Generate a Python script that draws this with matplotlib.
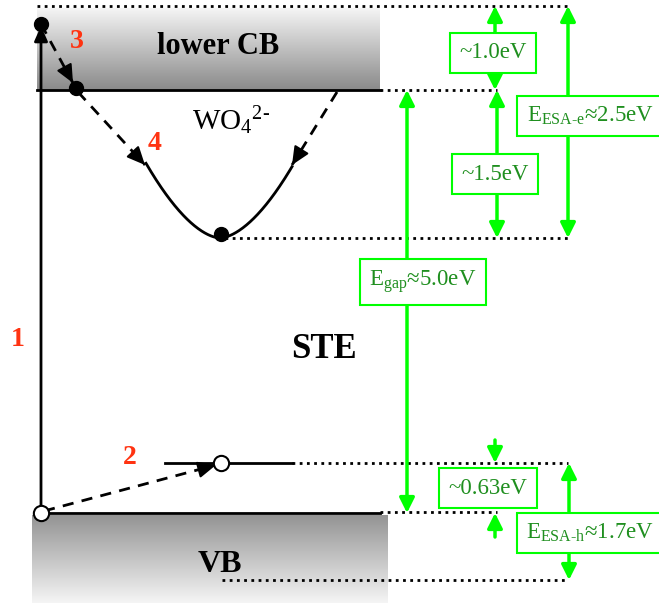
import numpy as np
import matplotlib.pyplot as plt

plt.rcParams['font.family'] = ['Liberation Serif', 'DejaVu Serif']
plt.rcParams['mathtext.fontset'] = 'custom'
plt.rcParams['mathtext.rm'] = 'Liberation Serif'
plt.rcParams['mathtext.it'] = 'Liberation Serif:italic'

# level positions in the diagram (pixel-like units, 0 at top)
y_cb_top = 6      # top of lower CB
y_cb = 90         # CB edge
y_ste = 238       # STE minimum
y_hole = 463      # self-trapped hole level
y_vb = 513        # VB edge
y_vb_low = 580    # lower VB level

# potential well of WO4 2-
well_left, well_right, well_min_x = 146, 292, 220
well_top = 165

# green energy arrows
gap_x = [407, 495, 497, 568, 569]
gap_from = [y_cb, y_cb_top, y_cb, y_cb_top, y_hole]
gap_to = [y_vb, y_cb, y_ste, y_ste, y_vb_low]
gap_labels = [r'E$_{\rm gap}$≈5.0eV', '~1.0eV', '~1.5eV',
              r'E$_{\rm ESA\text{-}e}$≈2.5eV', r'E$_{\rm ESA\text{-}h}$≈1.7eV']
label_x = [423, 493, 495, 590, 590]
label_y = [282, 53, 174, 116, 533]

green = '#00ff00'
txtgreen = '#1f8f1f'
red = '#ff3311'

fig = plt.figure(figsize=(6.59, 6.03), dpi=100)
ax = fig.add_axes([0, 0, 1, 1])
ax.set_xlim(0, 659)
ax.set_ylim(603, 0)
ax.axis('off')

# band boxes with gradients
g = np.linspace(0, 1, 100)[:, None]
cb = 0.96 - 0.42 * g
ax.imshow(np.dstack([cb, cb, cb]), extent=(37, 380, y_cb, 8), aspect='auto', zorder=0)
vb = 0.58 + 0.38 * g
ax.imshow(np.dstack([vb, vb, vb]), extent=(32, 388, 603, y_vb + 2), aspect='auto', zorder=0)

ax.plot([37, 380], [y_cb, y_cb], color='black', lw=2, zorder=2)
ax.plot([41, 380], [y_vb, y_vb], color='black', lw=2, zorder=2)

dot = dict(color='black', lw=2, linestyle=(0, (1, 1.6)), zorder=1)
ax.plot([37, 568], [y_cb_top, y_cb_top], **dot)
ax.plot([380, 497], [y_cb, y_cb], **dot)
ax.plot([225, 568], [y_ste, y_ste], **dot)
ax.plot([292, 568], [y_hole, y_hole], **dot)
ax.plot([380, 497], [y_vb - 1, y_vb - 1], **dot)
ax.plot([222, 568], [y_vb_low, y_vb_low], **dot)

# well curve
xs = np.linspace(well_left, well_right, 200)
half = (well_right - well_left) / 2
u = np.abs(xs - well_min_x) / half
ys = y_ste - (y_ste - well_top) * u ** 1.7
ax.plot(xs, ys, color='black', lw=2, zorder=3)


def dashed_arrow(p0, p1):
    ax.plot([p0[0], p1[0]], [p0[1], p1[1]], color='black', lw=2,
            linestyle=(0, (4, 3)), zorder=3)
    d = np.array(p1) - np.array(p0)
    back = np.array(p1) - d / np.hypot(*d) * 8
    ax.annotate('', xy=p1, xytext=back,
                arrowprops=dict(arrowstyle='-|>,head_length=1.1,head_width=0.5',
                                color='black', lw=1.5, shrinkA=0, shrinkB=0),
                zorder=4)


# transition 1 (vertical)
ax.annotate('', xy=(41, 26), xytext=(41, y_vb),
            arrowprops=dict(arrowstyle='-|>,head_length=0.9,head_width=0.4',
                            color='black', lw=2, shrinkA=0, shrinkB=0), zorder=3)
dashed_arrow((41, 24), (73, 83))
dashed_arrow((78, 92), (145, 165))
dashed_arrow((337, 92), (292, 165))
dashed_arrow((44, 511), (216, 465))
ax.plot([165, 292], [y_hole, y_hole], color='black', lw=2, zorder=2)

ax.plot(41, 24, 'o', color='black', ms=10, zorder=5)
ax.plot(76, 88, 'o', color='black', ms=10, zorder=5)
ax.plot(221, 234, 'o', color='black', ms=10, zorder=5)
ax.plot(221, y_hole, 'o', mfc='white', mec='black', mew=1.5, ms=11, zorder=5)
ax.plot(41, y_vb, 'o', mfc='white', mec='black', mew=1.5, ms=11, zorder=5)

# text labels
ax.text(218, 46, 'lower CB', fontsize=22, fontweight='bold', ha='center', va='center')
ax.text(324, 349, 'STE', fontsize=25, fontweight='bold', ha='center', va='center')
ax.text(220, 565, 'VB', fontsize=23, fontweight='bold', ha='center', va='center')
ax.text(231, 121, r'WO$_4$$^{2\text{-}}$', fontsize=21, ha='center', va='center')
for s, x, y in [('1', 18, 339), ('2', 130, 458), ('3', 77, 42), ('4', 155, 143)]:
    ax.text(x, y, s, fontsize=20, fontweight='bold', color=red, ha='center', va='center')

# green energy arrows
for x, a, b in zip(gap_x, gap_from, gap_to):
    ax.annotate('', xy=(x, a), xytext=(x, b),
                arrowprops=dict(arrowstyle='<|-|>,head_length=0.9,head_width=0.45',
                                color=green, lw=2.5, shrinkA=0, shrinkB=0), zorder=2)
for s, x, y in zip(gap_labels, label_x, label_y):
    ax.text(x, y, s, fontsize=16.5, color=txtgreen, ha='center', va='center', zorder=6,
            bbox=dict(boxstyle='square,pad=0.4', fc='white', ec=green, lw=1.5))

# ~0.63 eV inward arrows
for a, b in [(440, y_hole), (537, y_vb)]:
    ax.annotate('', xy=(495, b), xytext=(495, a),
                arrowprops=dict(arrowstyle='-|>,head_length=0.9,head_width=0.45',
                                color=green, lw=2.5, shrinkA=0, shrinkB=0), zorder=2)
ax.text(488, 488, '~0.63eV', fontsize=16.5, color=txtgreen, ha='center', va='center', zorder=6,
        bbox=dict(boxstyle='square,pad=0.4', fc='white', ec=green, lw=1.5))

fig.savefig('out.png', dpi=100)
